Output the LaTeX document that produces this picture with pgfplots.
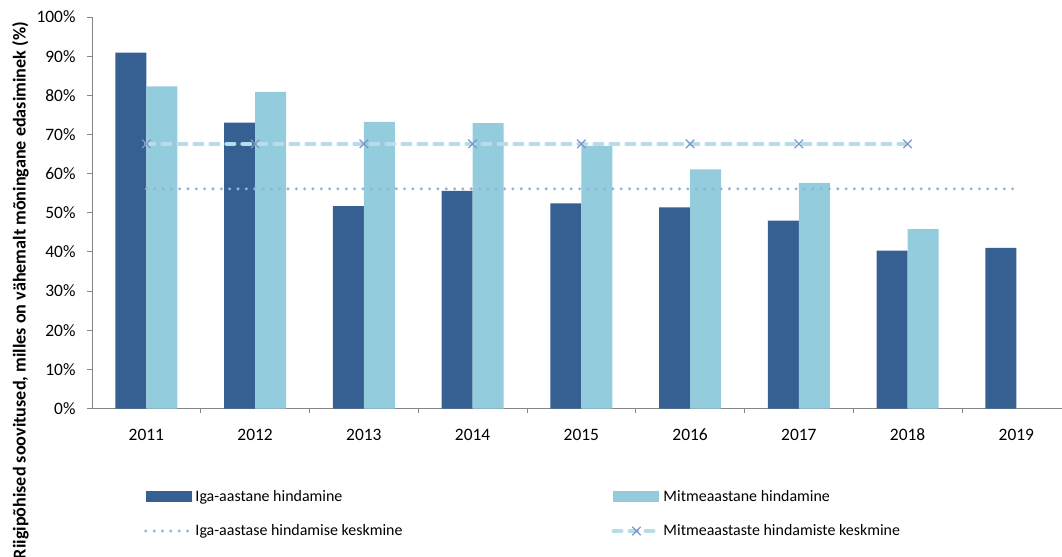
\documentclass[border=0pt]{standalone}
\usepackage{fontspec}
\setmainfont{Carlito}
\usepackage{pgfplots}
\pgfplotsset{compat=1.18}
\definecolor{darkbar}{HTML}{366092}
\definecolor{lightbar}{HTML}{93CDDD}
\definecolor{dotcol}{HTML}{95B3D7}
\definecolor{dashcol}{HTML}{B7DEE8}
\definecolor{crosscol}{HTML}{8096C8}
\definecolor{axisgray}{HTML}{868686}
\begin{document}
\begin{tikzpicture}
\begin{axis}[
  at={(92bp,148.5bp)}, anchor=south west,
  width=970bp, height=391.5bp, scale only axis,
  xmin=-0.5, xmax=8.42, ymin=0, ymax=100,
  axis x line*=bottom, axis y line*=left,
  axis line style={draw=axisgray, line width=0.9bp, -},
  tick pos=left,
  xtick={0,...,8},
  xticklabels={2011,2012,2013,2014,2015,2016,2017,2018,2019},
  minor x tick num=1,
  major x tick style={draw=none},
  minor x tick style={draw=axisgray, line width=0.9bp},
  ytick={0,10,...,100},
  yticklabel={\pgfmathprintnumber{\tick}\%},
  y tick style={draw=axisgray, line width=0.9bp},
  tick align=outside, major tick length=5bp, minor tick length=5bp,
  /pgf/number format/assume math mode=true,
  ticklabel style={font=\fontsize{17.5}{21}\selectfont, text=black},
  xticklabel style={yshift=-12bp},
  yticklabel style={xshift=-8bp},
  ylabel={Riigipõhised soovitused, milles on vähemalt mõningane edasiminek (\%)},
  ylabel style={at={(rel axis cs:-0.0737,0.9872)}, anchor=east, font=\bfseries\fontsize{18.2}{21}\selectfont, inner sep=0pt},
  legend columns=2,
  legend cell align=left,
  legend style={at={(0.0536,-0.203)}, anchor=north west, draw=none, fill=none, inner sep=0pt, row sep=18bp, font=\fontsize{16}{19}\selectfont},
]
\addplot[ybar, bar width=31bp, bar shift=-15.5bp, fill=darkbar, draw=none,
  legend image code/.code={\fill[darkbar] (0bp,-5.3bp) rectangle (46bp,5.3bp);}]
  coordinates {(0,90.9)(1,73.0)(2,51.7)(3,55.6)(4,52.4)(5,51.4)(6,48.0)(7,40.3)(8,41.0)};
\addlegendentry{\makebox[414bp][l]{Iga-aastane hindamine}}
\addplot[ybar, bar width=31bp, bar shift=15.5bp, fill=lightbar, draw=none,
  legend image code/.code={\fill[lightbar] (0bp,-5.3bp) rectangle (46bp,5.3bp);}]
  coordinates {(0,82.3)(1,80.9)(2,73.2)(3,72.9)(4,67.1)(5,61.1)(6,57.6)(7,45.8)};
\addlegendentry{Mitmeaastane hindamine}
\addplot[dotcol, line width=3.3bp, line cap=round, dash pattern=on 0bp off 8.33bp, mark=none,
  legend image code/.code={\draw (0bp,0bp)--(46bp,0bp);}]
  coordinates {(0,56.1)(1,56.1)(2,56.1)(3,56.1)(4,56.1)(5,56.1)(6,56.1)(7,56.1)(8,56.1)};
\addlegendentry{\makebox[414bp][l]{Iga-aastase hindamise keskmine}}
\addplot[dashcol, line width=4bp, line cap=round, dash pattern=on 8bp off 8bp,
  mark=x, mark size=6bp, mark options={solid, draw=crosscol, line width=1.3bp, line cap=butt},
  legend image code/.code={\draw[mark repeat=2, mark phase=2] plot coordinates {(0bp,0bp)(23bp,0bp)(46bp,0bp)};}]
  coordinates {(0,67.6)(1,67.6)(2,67.6)(3,67.6)(4,67.6)(5,67.6)(6,67.6)(7,67.6)};
\addlegendentry{Mitmeaastaste hindamiste keskmine}
\end{axis}
\pgfresetboundingbox
\useasboundingbox (0bp,0bp) rectangle (1062bp,557bp);
\end{tikzpicture}
\end{document}
